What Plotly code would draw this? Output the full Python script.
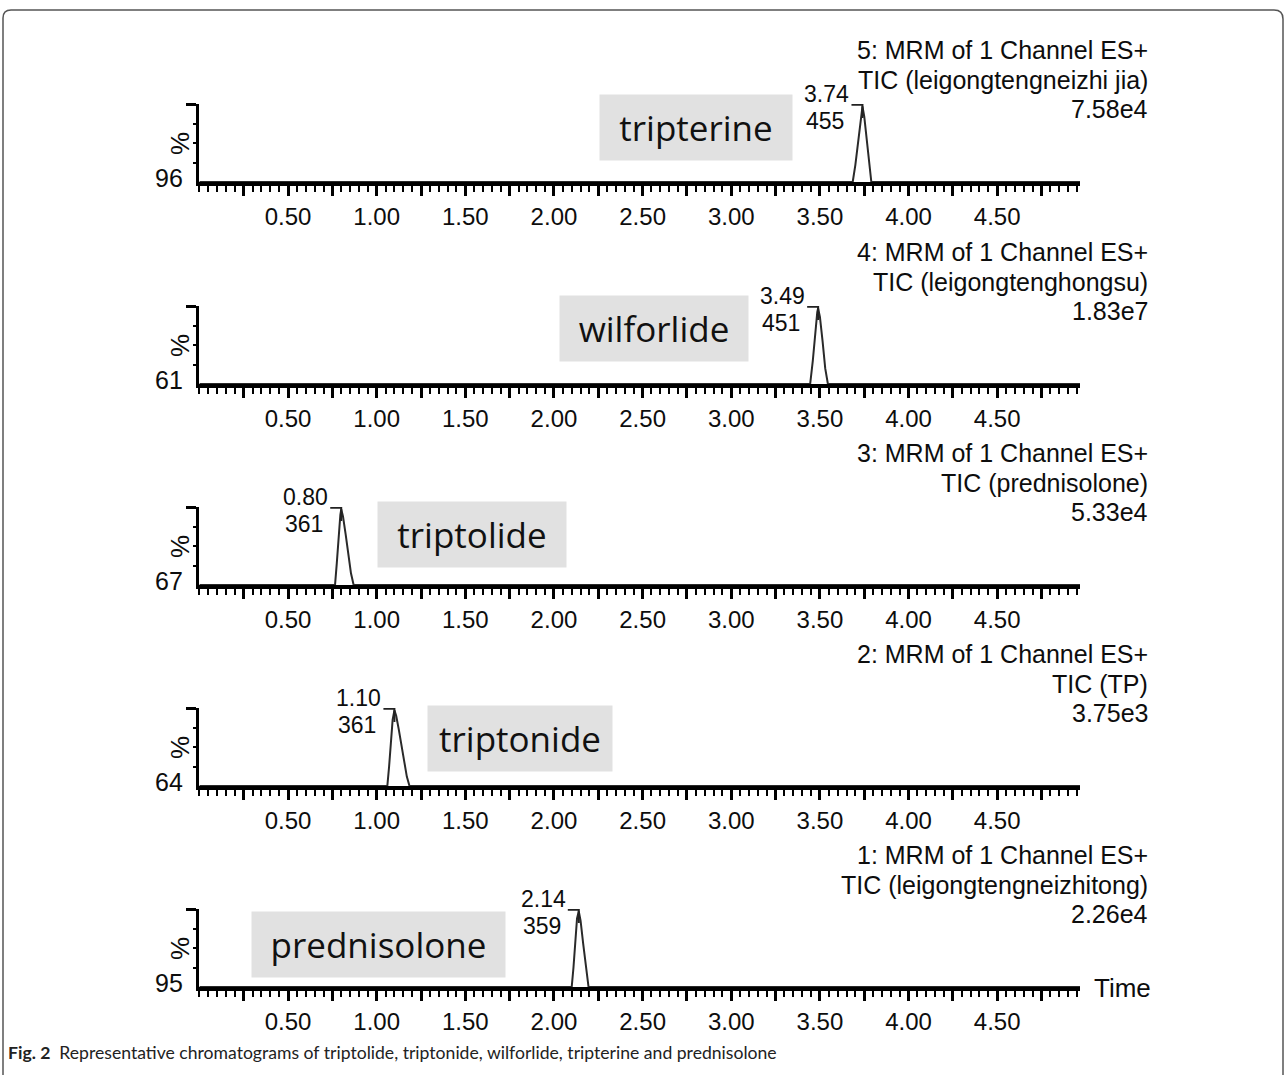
import plotly.graph_objects as go

W, H = 1285, 1075

# ---------------- data ----------------
panel_numbers = [5, 4, 3, 2, 1]
channel_names = ["leigongtengneizhi jia", "leigongtenghongsu", "prednisolone", "TP", "leigongtengneizhitong"]
intensity_labels = ["7.58e4", "1.83e7", "5.33e4", "3.75e3", "2.26e4"]
baseline_labels = ["96", "61", "67", "64", "95"]
compounds = ["tripterine", "wilforlide", "triptolide", "triptonide", "prednisolone"]
peak_rt = [3.74, 3.49, 0.80, 1.10, 2.14]
peak_mz = ["455", "451", "361", "361", "359"]

time_1 = [0.00, 3.685, 3.70, 3.715, 3.73, 3.74, 3.75, 3.765, 3.78, 3.79, 4.97]
resp_1 = [0, 0, 22, 50, 82, 97, 84, 52, 18, 0, 0]
time_2 = [0.00, 3.445, 3.46, 3.475, 3.485, 3.49, 3.50, 3.515, 3.53, 3.545, 4.97]
resp_2 = [0, 0, 30, 70, 92, 97, 86, 55, 20, 0, 0]
time_3 = [0.00, 0.765, 0.775, 0.785, 0.795, 0.80, 0.81, 0.825, 0.84, 0.855, 0.87, 4.97]
resp_3 = [0, 0, 28, 62, 90, 97, 88, 65, 40, 15, 0, 0]
time_4 = [0.00, 1.06, 1.07, 1.08, 1.09, 1.10, 1.11, 1.125, 1.14, 1.155, 1.17, 1.185, 4.97]
resp_4 = [0, 0, 25, 55, 85, 97, 90, 72, 52, 32, 12, 0, 0]
time_5 = [0.00, 2.10, 2.11, 2.12, 2.13, 2.14, 2.15, 2.165, 2.18, 2.195, 4.97]
resp_5 = [0, 0, 25, 58, 88, 97, 85, 55, 25, 0, 0]
times = [time_1, time_2, time_3, time_4, time_5]
resps = [resp_1, resp_2, resp_3, resp_4, resp_5]

major_ticks = [0.25, 0.50, 0.75, 1.00, 1.25, 1.50, 1.75, 2.00, 2.25, 2.50, 2.75,
               3.00, 3.25, 3.50, 3.75, 4.00, 4.25, 4.50, 4.75]
major_text = ["", "0.50", "", "1.00", "", "1.50", "", "2.00", "", "2.50", "",
              "3.00", "", "3.50", "", "4.00", "", "4.50", ""]
caption_bold = "Fig. 2"
caption_text = "Representative chromatograms of triptolide, triptonide, wilforlide, tripterine and prednisolone"

# ---------------- layout constants (pixels) ----------------
X_LEFT, X_RIGHT = 199.4, 1080.0
X_MAX = 4.967
PX_PER_UNIT = (X_RIGHT - X_LEFT) / X_MAX
BASELINES = [182, 384, 585, 786, 987]
AX_H = 78
BOXES = [(696, 127.5, 192), (654, 328, 188), (472, 534.5, 188), (520, 738, 184), (378.5, 944.5, 253)]
BOX_H = 65

SANS = "Liberation Sans, Arial, sans-serif"
INK = "#0d0d0d"


def px(x):
    return x / W


def py(y):
    return 1 - y / H


fig = go.Figure()
annotations = []
layout_axes = {}

for i in range(5):
    n = i + 1
    xa = "x" if n == 1 else f"x{n}"
    ya = "y" if n == 1 else f"y{n}"
    base = BASELINES[i]
    top = base - AX_H

    fig.add_trace(go.Scatter(x=times[i], y=resps[i], mode="lines",
                             line=dict(color="#2a2a2a", width=2),
                             xaxis=xa, yaxis=ya, showlegend=False, hoverinfo="skip"))
    rt = peak_rt[i]
    fig.add_trace(go.Scatter(x=[rt - 11 / PX_PER_UNIT, rt, rt], y=[99, 99, 82], mode="lines",
                             line=dict(color="#222222", width=2),
                             xaxis=xa, yaxis=ya, showlegend=False, hoverinfo="skip"))

    layout_axes[f"xaxis{n if n > 1 else ''}"] = dict(
        domain=[px(X_LEFT), px(X_RIGHT)], range=[0, X_MAX], anchor=ya,
        showline=True, linewidth=3.5, linecolor="black",
        ticks="outside", ticklen=10, tickwidth=2.5, tickcolor="black",
        tickmode="array", tickvals=major_ticks, ticktext=major_text,
        minor=dict(dtick=0.05, tick0=0, ticklen=6, tickwidth=2, tickcolor="black", ticks="outside"),
        tickfont=dict(family=SANS, size=24, color=INK),
        showgrid=False, zeroline=False, fixedrange=True,
    )
    layout_axes[f"yaxis{n if n > 1 else ''}"] = dict(
        domain=[py(base), py(top)], range=[0, 100], anchor=xa,
        showline=True, linewidth=3, linecolor="black",
        ticks="outside", ticklen=10, tickwidth=3, tickcolor="black",
        tickmode="array", tickvals=[100], ticktext=[""],
        minor=dict(tickmode="array", tickvals=[25, 50, 75], ticklen=3, tickwidth=2,
                   tickcolor="black", ticks="outside"),
        showgrid=False, zeroline=False, fixedrange=True,
    )

    # peak labels
    annotations.append(dict(x=rt, y=99, xref=xa, yref=ya, text=f"{rt:.2f}", showarrow=False,
                            xanchor="right", yanchor="bottom", xshift=-11, yshift=-4,
                            font=dict(family=SANS, size=23, color=INK)))
    annotations.append(dict(x=rt, y=100, xref=xa, yref=ya, text=peak_mz[i], showarrow=False,
                            xanchor="right", yanchor="middle", xshift=-16, yshift=-17,
                            font=dict(family=SANS, size=23, color=INK)))
    # channel titles
    for text, dy in [(f"{panel_numbers[i]}: MRM of 1 Channel ES+", -132),
                     (f"TIC ({channel_names[i]})", -102),
                     (intensity_labels[i], -73)]:
        annotations.append(dict(x=px(1150), y=py(base + dy), xref="paper", yref="paper",
                                text=text, showarrow=False, xanchor="right", yanchor="middle",
                                font=dict(family=SANS, size=25, color=INK)))
    # y axis labels
    annotations.append(dict(x=px(185), y=py(base - 4), xref="paper", yref="paper",
                            text=baseline_labels[i], showarrow=False, xanchor="right", yanchor="middle",
                            font=dict(family=SANS, size=25, color=INK)))
    annotations.append(dict(x=px(180), y=py(base - 38), xref="paper", yref="paper",
                            text="%", showarrow=False, textangle=-90, xanchor="center", yanchor="middle",
                            font=dict(family=SANS, size=26, color=INK)))
    # compound name box
    cx, cy, bw = BOXES[i]
    annotations.append(dict(x=px(cx), y=py(cy), xref="paper", yref="paper",
                            text=compounds[i], showarrow=False, xanchor="center", yanchor="middle",
                            width=bw, height=BOX_H, bgcolor="#e1e1e1", borderpad=0,
                            font=dict(family="Open Sans, Lato, sans-serif", size=35, color="#111111")))

annotations.append(dict(x=px(1092), y=py(988), xref="paper", yref="paper", text="Time",
                        showarrow=False, xanchor="left", yanchor="middle",
                        font=dict(family=SANS, size=26, color=INK)))
annotations.append(dict(x=px(6), y=py(1052), xref="paper", yref="paper",
                        text=f"<b>{caption_bold}</b>  {caption_text}",
                        showarrow=False, xanchor="left", yanchor="middle",
                        font=dict(family="Lato, Open Sans, sans-serif", size=17.6, color="#222222")))

border_path = (f"M {px(3)},{py(1076)} L {px(3)},{py(18)} Q {px(3)},{py(10)} {px(11)},{py(10)} "
               f"L {px(1274)},{py(10)} Q {px(1283)},{py(10)} {px(1283)},{py(19)} L {px(1283)},{py(1076)}")

fig.update_layout(
    width=W, height=H, autosize=False,
    margin=dict(l=0, r=0, t=0, b=0),
    paper_bgcolor="white", plot_bgcolor="rgba(0,0,0,0)",
    annotations=annotations,
    shapes=[dict(type="path", path=border_path, xref="paper", yref="paper",
                 line=dict(color="#555555", width=1.5))],
    showlegend=False,
    **layout_axes,
)

fig.write_html("out.html", config={"displayModeBar": False},
               post_script="document.body.style.margin='0';document.body.style.overflow='hidden';")
